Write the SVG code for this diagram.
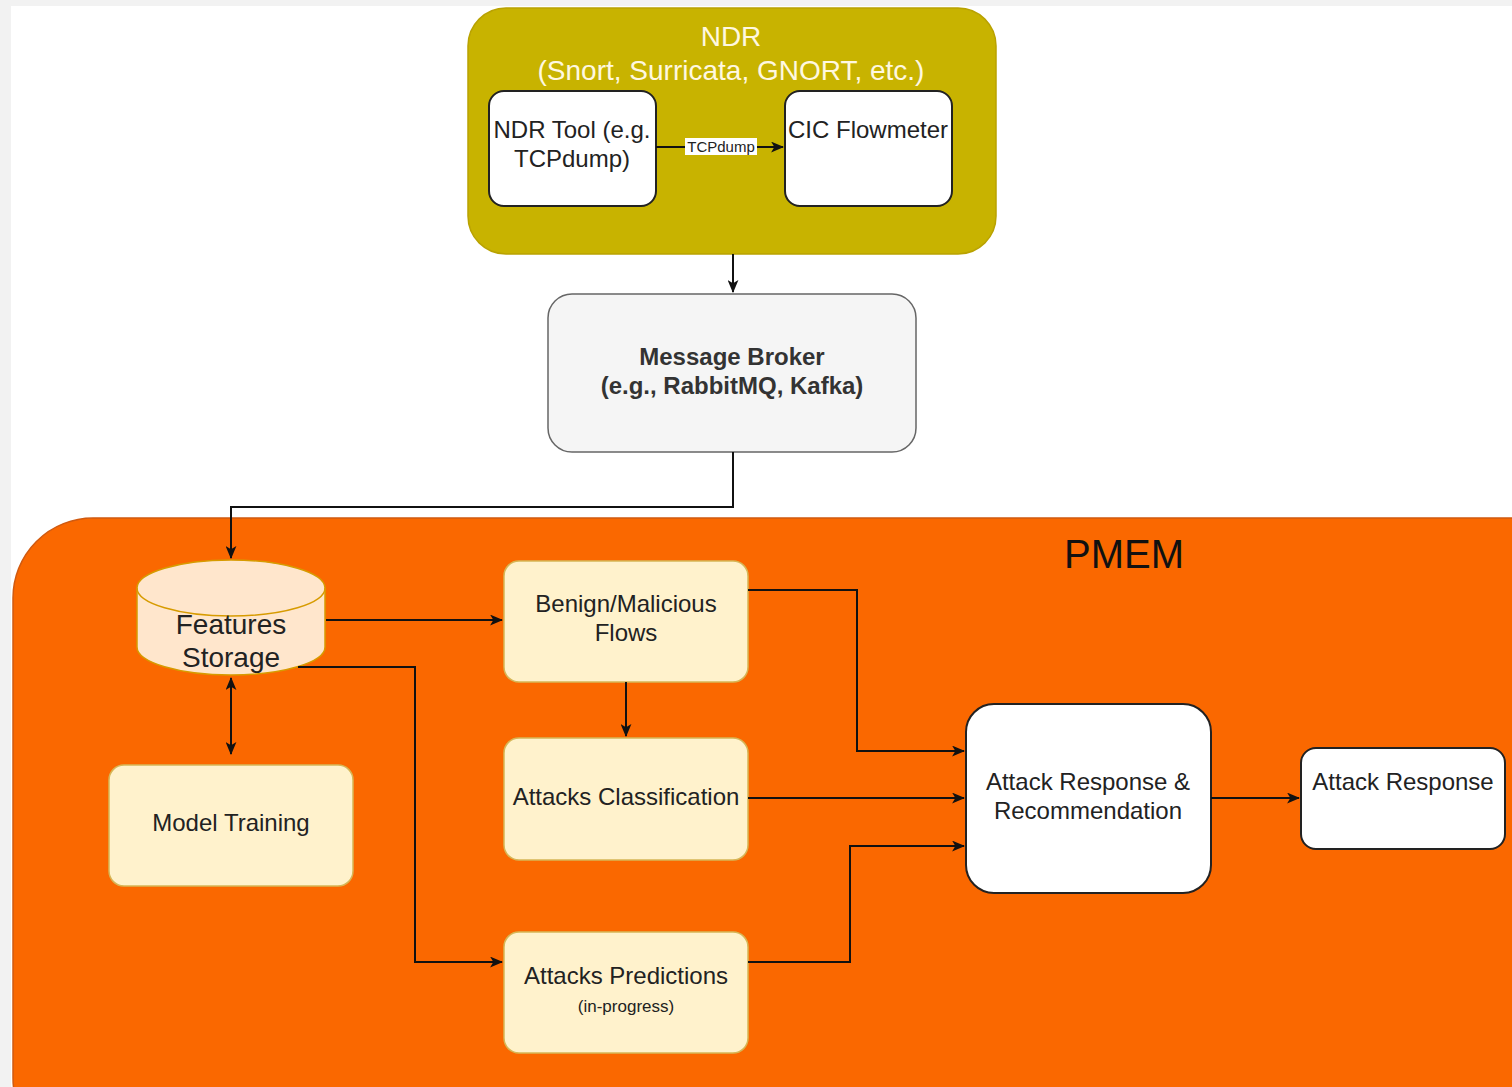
<svg xmlns="http://www.w3.org/2000/svg" width="1512" height="1087" viewBox="0 0 1512 1087">
<defs>
<style>
text{font-family:"Liberation Sans",Arial,sans-serif;fill:#222;text-anchor:middle}
.node{fill:#fff;stroke:#222;stroke-width:2}
.soft{fill:#fff2cc;stroke:#d6b656;stroke-width:1.5}
.edge{fill:none;stroke:#111;stroke-width:2}
.t22{font-size:24px}
</style>
<marker id="arr" viewBox="0 0 12 10" refX="11" refY="5" markerWidth="13" markerHeight="11" markerUnits="userSpaceOnUse" orient="auto-start-reverse">
<path d="M0,0 L12,5 L0,10 L3,5 Z" fill="#111"/>
</marker>
</defs>
<rect x="0" y="0" width="1512" height="1087" fill="#f2f2f2"/>
<rect x="11" y="6" width="1501" height="1081" fill="#fff"/>

<g id="ndr">
<rect x="468" y="8" width="528" height="246" rx="38" fill="#c8b300" stroke="#b9a200" stroke-width="1.5"/>
<text x="731" y="46" style="font-size:28px;fill:#fff8e0">NDR</text>
<text x="731" y="80" style="font-size:28px;fill:#fff8e0">(Snort, Surricata, GNORT, etc.)</text>
</g>
<g id="ndr-tool">
<rect class="node" x="489" y="91" width="167" height="115" rx="15"/>
<text class="t22" x="572" y="138">NDR Tool (e.g.</text>
<text class="t22" x="572" y="167">TCPdump)</text>
</g>
<g id="cic">
<rect class="node" x="785" y="91" width="167" height="115" rx="15"/>
<text class="t22" x="868" y="138">CIC Flowmeter</text>
</g>
<g id="broker">
<rect x="548" y="294" width="368" height="158" rx="24" fill="#f5f5f5" stroke="#666" stroke-width="1.5"/>
<text class="t22" x="732" y="365" style="font-weight:bold;fill:#333">Message Broker</text>
<text class="t22" x="732" y="394" style="font-weight:bold;fill:#333">(e.g., RabbitMQ, Kafka)</text>
</g>
<g id="pmem">
<rect x="13" y="518" width="1580" height="640" rx="80" fill="#fa6800" stroke="#d05a10" stroke-width="1.5"/>
<text x="1124" y="568" style="font-size:40px;fill:#111">PMEM</text>
</g>
<g id="features">
<path d="M137,588 A94,28 0 0 1 325,588 L325,647 A94,28 0 0 1 137,647 Z" fill="#ffe6cc" stroke="#d79b00" stroke-width="1.5"/>
<path d="M137,588 A94,28 0 0 0 325,588" fill="none" stroke="#d79b00" stroke-width="1.5"/>
<text x="231" y="634" style="font-size:28px">Features</text>
<text x="231" y="667" style="font-size:28px">Storage</text>
</g>
<g id="model-training">
<rect class="soft" x="109" y="765" width="244" height="121" rx="15"/>
<text class="t22" x="231" y="831">Model Training</text>
</g>
<g id="benign">
<rect class="soft" x="504" y="561" width="244" height="121" rx="15"/>
<text class="t22" x="626" y="612">Benign/Malicious</text>
<text class="t22" x="626" y="641">Flows</text>
</g>
<g id="classification">
<rect class="soft" x="504" y="738" width="244" height="122" rx="15"/>
<text class="t22" x="626" y="805">Attacks Classification</text>
</g>
<g id="predictions">
<rect class="soft" x="504" y="932" width="244" height="121" rx="15"/>
<text class="t22" x="626" y="984">Attacks Predictions</text>
<text x="626" y="1012" style="font-size:17px">(in-progress)</text>
</g>
<g id="recommendation">
<rect class="node" x="966" y="704" width="245" height="189" rx="28"/>
<text class="t22" x="1088" y="790">Attack Response &amp;</text>
<text class="t22" x="1088" y="819">Recommendation</text>
</g>
<g id="response">
<rect class="node" x="1301" y="748" width="204" height="101" rx="15"/>
<text class="t22" x="1403" y="790">Attack Response</text>
</g>

<g id="connectors">
<path class="edge" d="M656,147 L783,147" marker-end="url(#arr)"/>
<rect x="685" y="138" width="72" height="17" fill="#fff"/>
<text x="721" y="152" style="font-size:15px">TCPdump</text>
<path class="edge" d="M733,254 L733,292" marker-end="url(#arr)"/>
<path class="edge" d="M733,452 L733,507 L231,507 L231,558" marker-end="url(#arr)"/>
<path class="edge" d="M326,620 L502,620" marker-end="url(#arr)"/>
<path class="edge" d="M298,667 L415,667 L415,962 L502,962" marker-end="url(#arr)"/>
<path class="edge" d="M231,678 L231,754" marker-start="url(#arr)" marker-end="url(#arr)"/>
<path class="edge" d="M626,682 L626,736" marker-end="url(#arr)"/>
<path class="edge" d="M748,590 L857,590 L857,751 L964,751" marker-end="url(#arr)"/>
<path class="edge" d="M748,798 L964,798" marker-end="url(#arr)"/>
<path class="edge" d="M748,962 L850,962 L850,846 L964,846" marker-end="url(#arr)"/>
<path class="edge" d="M1211,798 L1299,798" marker-end="url(#arr)"/>
</g>
</svg>
